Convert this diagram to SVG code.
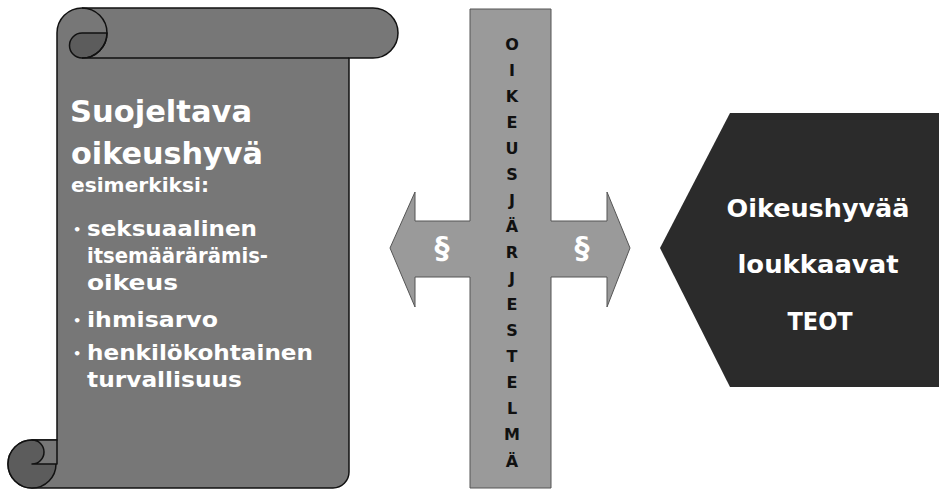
<svg xmlns="http://www.w3.org/2000/svg" width="939" height="491" viewBox="0 0 939 491">
<style>
.scroll{fill:#777777;stroke:#111;stroke-width:1.5;stroke-linejoin:round}
.curl{fill:#5c5c5c;stroke:#111;stroke-width:1.5;stroke-linejoin:round}
.line{fill:none;stroke:#111;stroke-width:1.5}
.cross{fill:#9a9a9a;stroke:#555;stroke-width:1}
.hex{fill:#2b2b2b}
.w{fill:#ffffff;font-family:"DejaVu Sans",sans-serif;font-weight:bold}
.b{fill:#ffffff;font-family:"DejaVu Sans",sans-serif;font-weight:bold;font-size:13px}
.k{fill:#111111;font-family:"DejaVu Sans",sans-serif;font-weight:bold;font-size:16px;text-anchor:middle}
</style>
<rect width="939" height="491" fill="#ffffff"/>
<g id="scroll">
  <path class="scroll" d="M57,33 A25,25 0 0 1 82,8 H373 A25,25 0 0 1 373,58 H349 V472 A16,16 0 0 1 333,488 H32 A24,24 0 0 1 32,440 H57 Z"/>
  <circle class="curl" cx="32" cy="464" r="24"/>
  <path class="scroll" d="M32,440 H57 V464 H32 A12,12 0 0 0 32,440 Z"/>
  <path class="curl" d="M82,33 H107 A25,25 0 0 1 82,58 A12.5,12.5 0 0 1 82,33 Z"/>
  <path class="line" d="M82,8 A25,25 0 0 1 82,58 H349"/>
  <text class="w" x="70" y="122" font-size="30" textLength="182" lengthAdjust="spacingAndGlyphs">Suojeltava</text>
  <text class="w" x="71" y="164" font-size="30" textLength="192" lengthAdjust="spacingAndGlyphs">oikeushyvä</text>
  <text class="w" x="71" y="192" font-size="20" textLength="138" lengthAdjust="spacingAndGlyphs">esimerkiksi:</text>
  <text class="b" x="73" y="234">•</text>
  <text class="w" x="87" y="236" font-size="22" textLength="170" lengthAdjust="spacingAndGlyphs">seksuaalinen</text>
  <text class="w" x="87" y="263" font-size="22" textLength="181" lengthAdjust="spacingAndGlyphs">itsemäärärämis-</text>
  <text class="w" x="87" y="290" font-size="22" textLength="91" lengthAdjust="spacingAndGlyphs">oikeus</text>
  <text class="b" x="73" y="325">•</text>
  <text class="w" x="87" y="327" font-size="22" textLength="131" lengthAdjust="spacingAndGlyphs">ihmisarvo</text>
  <text class="b" x="73" y="358">•</text>
  <text class="w" x="87" y="360" font-size="22" textLength="226" lengthAdjust="spacingAndGlyphs">henkilökohtainen</text>
  <text class="w" x="87" y="387" font-size="22" textLength="155" lengthAdjust="spacingAndGlyphs">turvallisuus</text>
</g>
<g id="cross">
  <polygon class="cross" points="470,9 551,9 551,221 607,221 607,192 630,248 607,307 607,277 551,277 551,488 470,488 470,277 415,277 415,307 390,248 415,192 415,221 470,221"/>
  <text class="k" x="512" y="49.5">O</text>
  <text class="k" x="512" y="75.6">I</text>
  <text class="k" x="512" y="101.6">K</text>
  <text class="k" x="512" y="127.7">E</text>
  <text class="k" x="512" y="153.7">U</text>
  <text class="k" x="512" y="179.8">S</text>
  <text class="k" x="512" y="205.9">J</text>
  <text class="k" x="512" y="231.9">Ä</text>
  <text class="k" x="512" y="258">R</text>
  <text class="k" x="512" y="284">J</text>
  <text class="k" x="512" y="310.1">E</text>
  <text class="k" x="512" y="336.2">S</text>
  <text class="k" x="512" y="362.2">T</text>
  <text class="k" x="512" y="388.3">E</text>
  <text class="k" x="512" y="414.3">L</text>
  <text class="k" x="512" y="440.4">M</text>
  <text class="k" x="512" y="466.5">Ä</text>
  <text class="w" x="442" y="258" font-size="30" text-anchor="middle">§</text>
  <text class="w" x="582" y="258" font-size="30" text-anchor="middle">§</text>
</g>
<g id="teot">
  <polygon class="hex" points="730,113 939,113 939,387 730,387 660,248"/>
  <text class="w" x="818" y="217" font-size="25" text-anchor="middle" textLength="183" lengthAdjust="spacingAndGlyphs">Oikeushyvää</text>
  <text class="w" x="818" y="273" font-size="25" text-anchor="middle" textLength="161" lengthAdjust="spacingAndGlyphs">loukkaavat</text>
  <text class="w" x="820" y="330" font-size="25" text-anchor="middle" textLength="65" lengthAdjust="spacingAndGlyphs">TEOT</text>
</g>
<g id="connectors"></g>
</svg>
